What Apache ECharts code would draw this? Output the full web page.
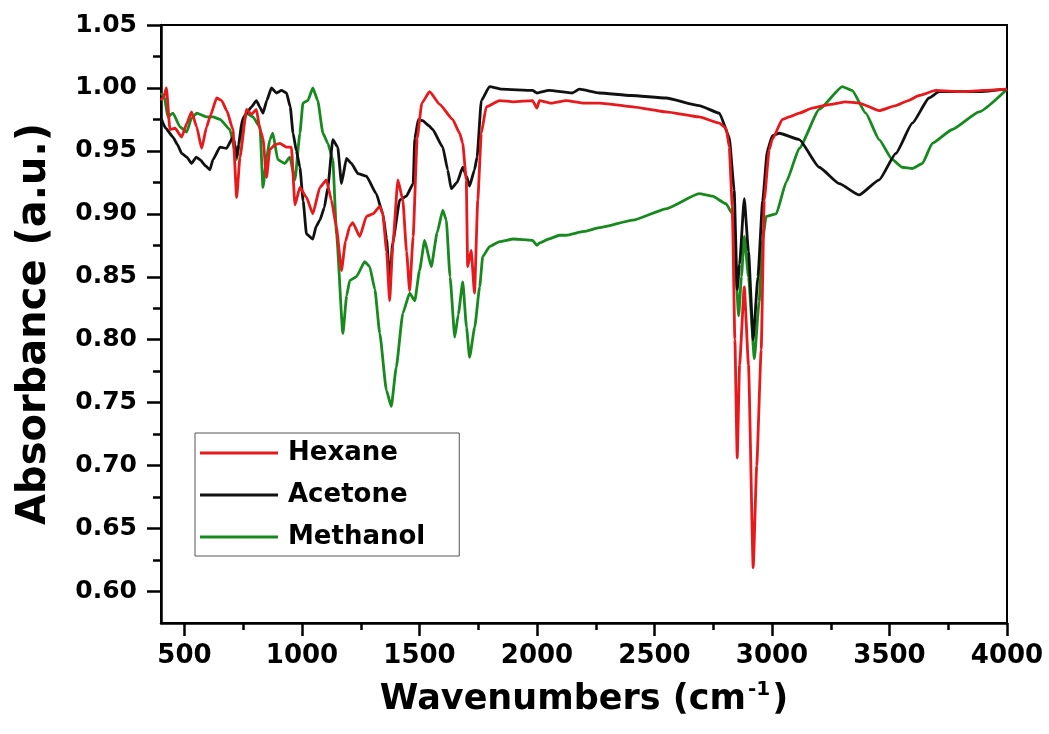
<!DOCTYPE html>
<html>
<head>
<meta charset="utf-8">
<script src="https://cdn.jsdelivr.net/npm/echarts@6/dist/echarts.min.js"></script>
<style>
html,body{margin:0;padding:0;background:#fff;}
#chart{width:1049px;height:734px;}
</style>
</head>
<body>
<div id="chart"></div>
<script>
// ---- Data ----
const seriesNames = ['Hexane', 'Acetone', 'Methanol'];

const hexaneX = [400,412,423,438,460,488,510,530,552,573,594,610,637,658,680,706,722,736,764,785,806,821,834,849,863,885,906,934,955,970,991,1019,1046,1076,1104,1125,1146,1168,1185,1203,1216,1246,1274,1302,1331,1344,1360,1373,1386,1408,1429,1445,1458,1473,1490,1510,1543,1586,1641,1671,1684,1699,1705,1720,1734,1748,1763,1784,1841,1900,1981,2000,2010,2060,2124,2200,2266,2408,2549,2690,2776,2805,2818,2831,2842,2852,2862,2882,2900,2920,2935,2954,2967,2988,3001,3044,3073,3116,3171,3250,3313,3371,3456,3527,3580,3626,3697,3809,3900,4000];
const hexaneY = [0.990,0.993,1.000,0.967,0.968,0.961,0.972,0.981,0.969,0.952,0.969,0.978,0.992,0.990,0.982,0.967,0.913,0.945,0.983,0.979,0.983,0.967,0.960,0.929,0.951,0.955,0.956,0.953,0.953,0.907,0.921,0.913,0.900,0.921,0.927,0.911,0.890,0.855,0.878,0.890,0.893,0.882,0.898,0.900,0.906,0.900,0.870,0.831,0.874,0.927,0.911,0.870,0.839,0.882,0.960,0.988,0.997,0.987,0.975,0.964,0.956,0.927,0.858,0.871,0.837,0.911,0.964,0.985,0.990,0.989,0.990,0.984,0.990,0.988,0.990,0.988,0.988,0.985,0.981,0.977,0.972,0.968,0.953,0.906,0.800,0.706,0.780,0.842,0.780,0.619,0.700,0.792,0.911,0.951,0.959,0.975,0.977,0.980,0.984,0.987,0.989,0.988,0.982,0.986,0.990,0.994,0.998,0.997,0.998,0.999];

const acetoneX = [400,420,451,470,488,510,530,550,566,590,608,621,651,679,706,715,722,730,746,764,785,806,820,834,850,870,891,913,934,950,962,976,991,1005,1019,1046,1060,1076,1095,1110,1131,1152,1168,1189,1210,1238,1274,1316,1344,1360,1373,1386,1416,1444,1473,1480,1495,1514,1540,1556,1599,1620,1635,1660,1684,1700,1713,1734,1745,1763,1798,1850,1981,2000,2050,2150,2180,2266,2400,2549,2690,2776,2818,2839,2852,2862,2882,2900,2920,2940,2960,2980,3001,3031,3116,3201,3286,3371,3456,3527,3597,3668,3711,3800,3881,4000];
const acetoneY = [0.976,0.968,0.961,0.955,0.948,0.945,0.940,0.945,0.943,0.938,0.935,0.943,0.953,0.952,0.961,0.955,0.945,0.955,0.975,0.980,0.985,0.990,0.985,0.980,0.990,1.000,0.996,0.998,0.996,0.985,0.964,0.950,0.937,0.910,0.884,0.880,0.890,0.895,0.905,0.921,0.959,0.953,0.924,0.944,0.940,0.932,0.930,0.916,0.900,0.880,0.847,0.877,0.911,0.914,0.924,0.960,0.975,0.974,0.970,0.967,0.953,0.935,0.920,0.925,0.937,0.930,0.922,0.935,0.945,0.990,1.001,0.999,0.998,0.996,0.998,0.996,0.999,0.996,0.994,0.992,0.986,0.980,0.961,0.919,0.840,0.860,0.912,0.870,0.800,0.850,0.910,0.950,0.962,0.964,0.959,0.937,0.924,0.915,0.927,0.948,0.972,0.992,0.997,0.997,0.997,0.999];

const methanolX = [400,414,429,451,481,509,530,552,594,621,651,693,722,736,764,791,821,834,850,863,876,897,927,948,970,991,1004,1025,1046,1067,1089,1110,1131,1147,1174,1190,1203,1231,1267,1288,1310,1331,1359,1380,1401,1429,1458,1480,1500,1522,1550,1575,1599,1614,1630,1650,1665,1684,1700,1713,1735,1756,1769,1798,1841,1900,1981,2000,2011,2050,2096,2124,2200,2266,2408,2549,2690,2747,2804,2832,2846,2858,2870,2882,2900,2925,2945,2960,2975,3018,3060,3116,3201,3299,3341,3399,3456,3512,3554,3597,3640,3682,3767,3881,4000];
const methanolY = [0.996,0.993,0.977,0.980,0.969,0.965,0.976,0.980,0.977,0.977,0.975,0.967,0.943,0.959,0.980,0.977,0.969,0.921,0.945,0.959,0.964,0.943,0.940,0.945,0.927,0.964,0.988,0.990,1.000,0.990,0.964,0.956,0.943,0.884,0.805,0.835,0.847,0.850,0.862,0.858,0.840,0.805,0.760,0.747,0.778,0.821,0.837,0.831,0.855,0.879,0.858,0.885,0.903,0.895,0.850,0.802,0.820,0.846,0.810,0.786,0.810,0.842,0.866,0.874,0.878,0.880,0.879,0.875,0.877,0.880,0.883,0.883,0.886,0.889,0.895,0.904,0.916,0.914,0.908,0.900,0.853,0.819,0.850,0.882,0.850,0.785,0.830,0.879,0.898,0.900,0.925,0.952,0.983,1.001,0.998,0.980,0.959,0.943,0.937,0.936,0.940,0.956,0.967,0.981,0.999];

const xMajorTicks = [500,1000,1500,2000,2500,3000,3500,4000];
const xMinorTicks = [750,1250,1750,2250,2750,3250,3750];
const yMajorTicks = [0.60,0.65,0.70,0.75,0.80,0.85,0.90,0.95,1.00,1.05];
const yMinorTicks = [0.625,0.675,0.725,0.775,0.825,0.875,0.925,0.975,1.025];

// ---- Chart ----
const FONT = 'DejaVu Sans';
const zip = (xs, ys) => xs.map((x, i) => [x, ys[i]]);
const colors = ['#e8191c', '#111111', '#17891f'];
const dataSets = [zip(hexaneX, hexaneY), zip(acetoneX, acetoneY), zip(methanolX, methanolY)];

const chart = echarts.init(document.getElementById('chart'), null, {renderer: 'canvas'});

const baseX = {
  type: 'value', min: 400, max: 4000, gridIndex: 0,
  splitLine: {show: false}
};
const baseY = {
  type: 'value', min: 0.575, max: 1.05, gridIndex: 0,
  splitLine: {show: false}
};

const option = {
  backgroundColor: '#fff',
  animation: false,
  color: colors,
  grid: {left: 161, right: 42, top: 25, bottom: 111, show: true, borderColor: '#000', borderWidth: 2, backgroundColor: 'transparent'},
  legend: {
    orient: 'vertical', left: 195, top: 433,
    data: seriesNames,
    icon: 'rect', itemWidth: 78, itemHeight: 3, itemGap: 12,
    padding: [5, 34, 4, 5],
    borderColor: '#555', borderWidth: 1, backgroundColor: '#fff',
    textStyle: {fontFamily: FONT, fontWeight: 'bold', fontSize: 26, color: '#000', lineHeight: 30, padding: [0, 0, 0, 5]}
  },
  xAxis: [
    Object.assign({}, baseX, {
      position: 'bottom',
      name: '{a|Wavenumbers (cm}{s|-1}{a|)}',
      nameLocation: 'middle', nameGap: 57,
      nameTextStyle: {
        rich: {
          a: {fontFamily: FONT, fontWeight: 'bold', fontSize: 35, color: '#000', lineHeight: 40},
          s: {fontFamily: FONT, fontWeight: 'bold', fontSize: 20, color: '#000', lineHeight: 40, verticalAlign: 'top', padding: [0, 2, 16, 2]}
        }
      },
      axisLine: {show: true, lineStyle: {color: '#000', width: 2.5}},
      axisTick: {show: true, inside: false, length: 13, customValues: xMajorTicks, lineStyle: {color: '#000', width: 2.5}},
      axisLabel: {show: true, customValues: xMajorTicks, margin: 20, fontFamily: FONT, fontWeight: 'bold', fontSize: 26, color: '#000', formatter: v => String(Math.round(v))}
    }),
    Object.assign({}, baseX, {
      position: 'bottom',
      axisLine: {show: false},
      axisTick: {show: true, inside: false, length: 7, customValues: xMinorTicks, lineStyle: {color: '#000', width: 2.5}},
      axisLabel: {show: false}
    })
  ],
  yAxis: [
    Object.assign({}, baseY, {
      position: 'left',
      name: 'Absorbance (a.u.)',
      nameLocation: 'middle', nameGap: 106, nameRotate: 90,
      nameTextStyle: {fontFamily: FONT, fontWeight: 'bold', fontSize: 40, color: '#000'},
      axisLine: {show: true, lineStyle: {color: '#000', width: 2.5}},
      axisTick: {show: true, inside: false, length: 14, customValues: yMajorTicks, lineStyle: {color: '#000', width: 2.5}},
      axisLabel: {show: true, customValues: yMajorTicks, margin: 24, fontFamily: FONT, fontWeight: 'bold', fontSize: 25, color: '#000', formatter: v => v.toFixed(2)}
    }),
    Object.assign({}, baseY, {
      position: 'left',
      axisLine: {show: false},
      axisTick: {show: true, inside: false, length: 8, customValues: yMinorTicks, lineStyle: {color: '#000', width: 2.5}},
      axisLabel: {show: false}
    })
  ],
  series: seriesNames.map((name, i) => ({
    name: name,
    type: 'line',
    xAxisIndex: 0, yAxisIndex: 0,
    data: dataSets[i],
    showSymbol: false,
    symbol: 'none',
    smooth: 0.15,
    smoothMonotone: 'x',
    lineStyle: {color: colors[i], width: 2.8},
    itemStyle: {color: colors[i]},
    z: 3 - i
  }))
};
chart.setOption(option);
</script>
</body>
</html>
